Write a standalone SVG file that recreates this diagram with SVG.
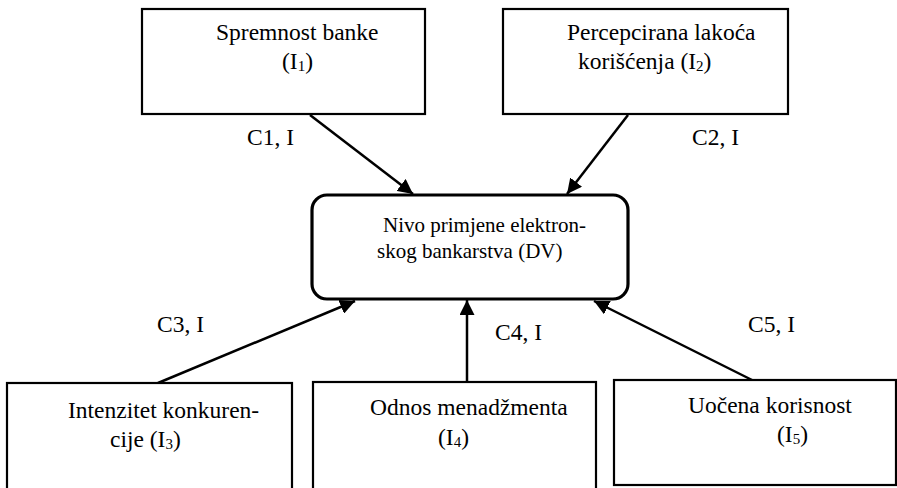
<svg xmlns="http://www.w3.org/2000/svg" width="897" height="488" viewBox="0 0 897 488">
<defs>
<style>
.box{fill:#fff;stroke:#000;stroke-width:2.2}
.center{fill:#fff;stroke:#000;stroke-width:3.2}
.t{font-family:"Liberation Serif","Times New Roman",serif;font-size:23.5px;fill:#000}
.tc{font-family:"Liberation Serif","Times New Roman",serif;font-size:21px;fill:#000}
.sub{font-size:15px}
.conn{stroke:#000;stroke-width:2.5;fill:none;marker-end:url(#ah)}
</style>
<marker id="ah" viewBox="0 0 10 10" refX="10" refY="5" markerWidth="6" markerHeight="6" markerUnits="strokeWidth" orient="auto">
<path d="M0,0 L10,5 L0,10 z" fill="#000"/>
</marker>
</defs>
<rect width="897" height="488" fill="#fff"/>
<g id="connectors">
<line class="conn" x1="310" y1="115" x2="413" y2="194"/>
<line class="conn" x1="628" y1="115" x2="567" y2="194"/>
<line class="conn" x1="158" y1="383" x2="355" y2="301"/>
<line class="conn" x1="467" y1="382" x2="467" y2="300"/>
<line class="conn" x1="752" y1="380" x2="594" y2="301"/>
</g>
<g id="labels">
<text class="t" x="247" y="145">C1, I</text>
<text class="t" x="692" y="145">C2, I</text>
<text class="t" x="157" y="332">C3, I</text>
<text class="t" x="495" y="340">C4, I</text>
<text class="t" x="748" y="332">C5, I</text>
</g>
<g id="node-i1">
<rect class="box" x="142" y="9" width="283" height="105"/>
<text class="t" x="216" y="40">Spremnost banke</text>
<text class="t" x="282" y="69">(I<tspan class="sub" dy="2">1</tspan><tspan dy="-2">)</tspan></text>
</g>
<g id="node-i2">
<rect class="box" x="503" y="9" width="285" height="105"/>
<text class="t" x="567" y="40">Percepcirana lakoća</text>
<text class="t" x="578" y="69">korišćenja (I<tspan class="sub" dy="2">2</tspan><tspan dy="-2">)</tspan></text>
</g>
<g id="node-dv">
<rect class="center" x="312" y="195" width="316" height="104" rx="15" ry="15"/>
<text class="tc" x="383" y="232">Nivo primjene elektron-</text>
<text class="tc" x="377" y="258">skog bankarstva (DV)</text>
</g>
<g id="node-i3">
<rect class="box" x="7" y="383" width="285" height="120"/>
<text class="t" x="68" y="418">Intenzitet konkuren-</text>
<text class="t" x="110" y="447">cije (I<tspan class="sub" dy="2">3</tspan><tspan dy="-2">)</tspan></text>
</g>
<g id="node-i4">
<rect class="box" x="313" y="382" width="283" height="120"/>
<text class="t" x="370" y="415">Odnos menadžmenta</text>
<text class="t" x="438" y="445">(I<tspan class="sub" dy="2">4</tspan><tspan dy="-2">)</tspan></text>
</g>
<g id="node-i5">
<rect class="box" x="614" y="380" width="282" height="105"/>
<text class="t" x="688" y="413">Uočena korisnost</text>
<text class="t" x="777" y="442">(I<tspan class="sub" dy="2">5</tspan><tspan dy="-2">)</tspan></text>
</g>
</svg>
